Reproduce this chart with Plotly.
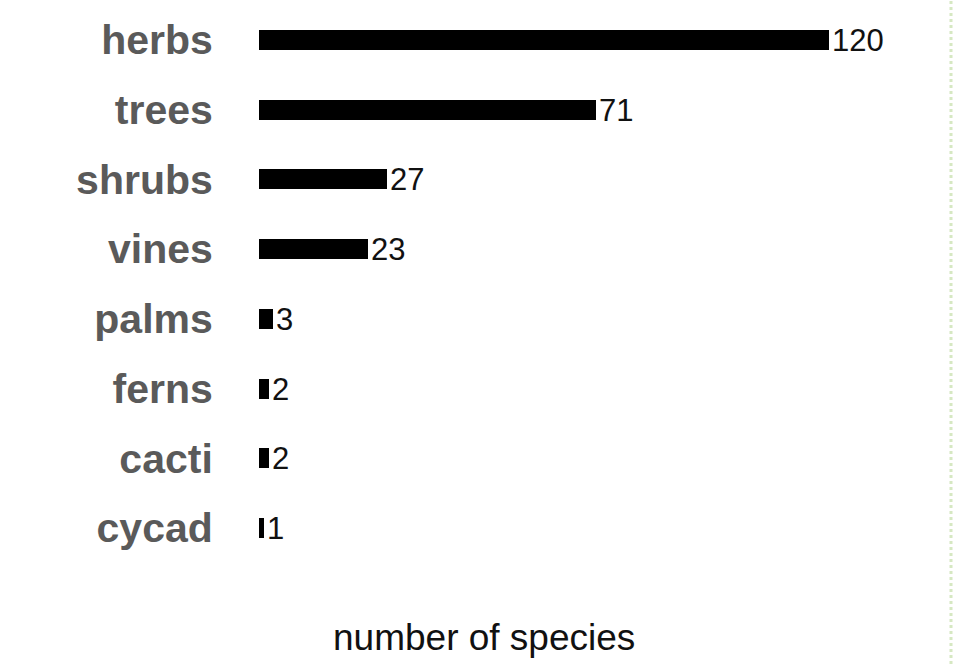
import plotly.graph_objects as go

# Plant growth forms and species counts
growth_forms = ["herbs", "trees", "shrubs", "vines", "palms", "ferns", "cacti", "cycad"]
species_counts = [120, 71, 27, 23, 3, 2, 2, 1]
axis_title = "number of species"

FONT = "Liberation Sans, Arial, Helvetica, sans-serif"

fig = go.Figure(
    go.Bar(
        x=species_counts,
        y=growth_forms,
        orientation="h",
        width=0.29,
        marker=dict(color="black", line=dict(width=0)),
        text=[str(v) for v in species_counts],
        textposition="outside",
        constraintext="none",
        cliponaxis=False,
        textfont=dict(family=FONT, size=31, color="#111111"),
        hoverinfo="skip",
    )
)

fig.update_layout(
    width=955,
    height=664,
    margin=dict(l=259, r=10, t=5, b=101),
    paper_bgcolor="white",
    plot_bgcolor="white",
    showlegend=False,
    bargap=0,
    xaxis=dict(
        range=[0, 144.4],
        showgrid=False,
        zeroline=False,
        showline=False,
        showticklabels=False,
        ticks="",
        fixedrange=True,
    ),
    yaxis=dict(
        categoryorder="array",
        categoryarray=growth_forms,
        autorange="reversed",
        showgrid=False,
        zeroline=False,
        showline=False,
        ticks="outside",
        ticklen=37,
        tickcolor="rgba(0,0,0,0)",
        tickfont=dict(family=FONT, size=41, color="#5a5a5a", weight="bold"),
        fixedrange=True,
    ),
    annotations=[
        dict(
            text=axis_title,
            xref="paper",
            yref="paper",
            x=(484 - 259) / 686,
            y=-(638 - 563) / 558,
            xanchor="center",
            yanchor="middle",
            showarrow=False,
            font=dict(family=FONT, size=37, color="#111111"),
        )
    ],
    shapes=[
        # faint green border strip along the right edge
        dict(
            type="line",
            xref="paper",
            yref="paper",
            x0=(951 - 259) / 686,
            x1=(951 - 259) / 686,
            y0=-101 / 558,
            y1=1 + 5 / 558,
            line=dict(color="#d6e8c2", width=3, dash="dot"),
        )
    ],
)

fig.write_html("out.html")
